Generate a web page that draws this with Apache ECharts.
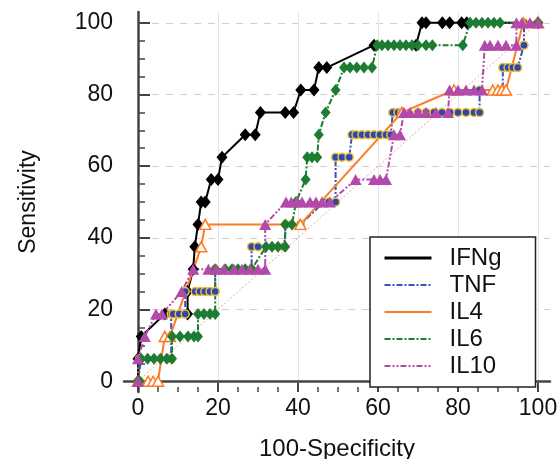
<!DOCTYPE html>
<html>
<head>
<meta charset="utf-8">
<script src="https://cdn.jsdelivr.net/npm/echarts@6/dist/echarts.min.js"></script>
<style>
html, body { margin: 0; padding: 0; background: #fff; }
#chartmain { width: 560px; height: 459px; }
</style>
</head>
<body>
<div id="chartmain"></div>
<script>
// tick labels of both axes
var ticks = [0, 20, 40, 60, 80, 100];

// ROC points [100-Specificity, Sensitivity]
var ifng = [[0,0],[0,6.25],[0.8,12.5],[6.7,18.75],[12.4,18.75],[12.4,25],[13.8,31.25],[14.2,37.5],[15,43.75],
    [15.8,50],[16.8,50],[18.3,56.25],[20,56.25],[21,62.5],[26.8,68.75],[29.3,68.75],[30.6,75],[36.8,75],[38.9,75],
    [40.7,81.25],[44,81.25],[45.2,87.5],[47.2,87.5],[59,93.75],[69.5,93.75],[71,100],[72,100],[76.1,100],[77.9,100],
    [80.9,100],[82.2,100],[100,100]];
var tnf = [[0,0],[0.4,0],[0.4,6.25],[8.3,6.25],[8.3,12.5],[8.3,18.75],[8.8,18.75],[10.3,18.75],[11.8,18.75],[11.8,25],
    [14.3,25],[15.5,25],[16.7,25],[18,25],[19.3,25],[19.3,31.25],[28.4,31.25],[28.4,37.5],[30,37.5],[36.5,37.5],[37,43.75],
    [40.6,43.75],[46.5,50],[47.7,50],[49.4,50],[49.4,62.5],[51,62.5],[52.8,62.5],[53.5,68.75],[54.5,68.75],[56,68.75],
    [57.5,68.75],[59,68.75],[60.5,68.75],[62,68.75],[63.2,68.75],[63.7,75],[65,75],[66,75],[70,75],[72,75],[74,75],
    [76,75],[78,75],[80,75],[82,75],[84,75],[85.4,75],[85.4,81.25],[91.2,81.25],[91.2,87.5],[92.5,87.5],[93.7,87.5],
    [94.9,87.5],[96.5,93.75],[96.5,100],[100,100]];
var il4 = [[0,0],[2.5,0],[3.8,0],[5,0],[6.7,12.5],[8,12.5],[15.8,37.5],[16.8,43.75],[40.6,43.75],[66,75],
    [79,81.25],[88.7,81.25],[90,81.25],[91,81.25],[92,81.25],[96.3,100],[100,100]];
var il6 = [[0,0],[0.4,0],[0.8,6.25],[2.4,6.25],[4,6.25],[5.6,6.25],[7.2,6.25],[8.5,6.25],[8.5,12.5],[10.5,12.5],
    [12.5,12.5],[14,12.5],[15,12.5],[15,18.75],[16.5,18.75],[18,18.75],[19.3,18.75],[19.3,31.25],[21.8,31.25],
    [23.5,31.25],[25,31.25],[26.8,31.25],[28.4,31.25],[32,37.5],[33.5,37.5],[35,37.5],[36.8,37.5],[36.8,43.75],
    [38.5,43.75],[39.5,50],[41.9,56.25],[42.3,62.5],[43.5,62.5],[44.8,62.5],[45.2,68.75],[46.9,75],[49.4,81.25],
    [51.5,87.5],[53,87.5],[54.7,87.5],[56.5,87.5],[58.5,87.5],[59.8,93.75],[61,93.75],[62.5,93.75],[64,93.75],
    [65.5,93.75],[67,93.75],[68.5,93.75],[70,93.75],[72,93.75],[73.6,93.75],[81.2,93.75],[83,100],[84.5,100],
    [86,100],[87.5,100],[89,100],[90.5,100],[100,100]];
var il10 = [[0,0],[0,6.25],[1.7,12.5],[4.5,18.75],[6,18.75],[10.9,25],[13.8,31.25],[17.6,31.25],[19.5,31.25],
    [21.5,31.25],[24,31.25],[26,31.25],[28,31.25],[30,31.25],[31.8,31.25],[31.8,43.75],[37,50],[38.3,50],[39.7,50],
    [41,50],[43,50],[44.5,50],[46,50],[48,50],[54.4,56.25],[59,56.25],[60.5,56.25],[62,56.25],[64,68.75],[65.5,68.75],
    [66.5,75],[68,75],[70,75],[72,75],[74.5,75],[77.5,75],[77.9,81.25],[80,81.25],[82,81.25],[84,81.25],[86,81.25],
    [86.7,93.75],[88,93.75],[90,93.75],[92,93.75],[94.6,93.75],[94.6,100],[96,100],[98,100],[100,100]];
var diag = [[0,0],[100,100]];

var names = ['IFNg', 'TNF', 'IL4', 'IL6', 'IL10'];

var font = 'Liberation Sans, Arial, sans-serif';
// plot frame in px and the value range it covers
var L = 124, R = 550, T = 12, B = 392;
var xMin = -3.5, xMax = 103, yMin = -3, yMax = 103;
var sx = (R - L) / (xMax - xMin), sy = (B - T) / (yMax - yMin);
var x0 = L + (ticks[0] - xMin) * sx, x100 = L + (ticks[5] - xMin) * sx;
var y100 = T + (yMax - ticks[5]) * sy, y0 = T + (yMax - ticks[0]) * sy;
var step = ticks[1] - ticks[0];

function line(name, data, color, type, width, symbol, size, itemStyle) {
    return {
        name: name, type: 'line', data: data, xAxisIndex: 0, yAxisIndex: 0,
        symbol: symbol, symbolSize: size,
        lineStyle: { color: color, width: width, type: type },
        itemStyle: itemStyle || { color: color },
        z: 3
    };
}

var option = {
    animation: false,
    grid: [
        { left: L, top: T, width: R - L, height: B - T, outerBoundsMode: 'none' },
        { left: x0, top: y100, width: R - x0, height: y0 - y100, outerBoundsMode: 'none' },
        { left: x0, top: T, width: x100 - x0, height: B - T, outerBoundsMode: 'none' }
    ],
    xAxis: [{
        gridIndex: 0, type: 'value', min: xMin, max: xMax,
        axisLine: { lineStyle: { color: '#444', width: 2.5 } },
        axisTick: { show: false }, axisLabel: { show: false }, splitLine: { show: false },
        name: '100-Specificity', nameLocation: 'middle', nameGap: 45,
        nameTextStyle: { fontSize: 24, color: '#111', fontFamily: font }
    }, {
        gridIndex: 1, type: 'value', min: 0, max: 1, show: false
    }, {
        gridIndex: 2, type: 'value', min: ticks[0], max: ticks[5], interval: step,
        axisLine: { show: false },
        axisTick: { inside: true, length: 9, lineStyle: { color: '#444', width: 2 } },
        minorTick: { show: true, splitNumber: 4, length: 5, lineStyle: { color: '#444', width: 1.5 } },
        axisLabel: { fontSize: 23, color: '#111', fontFamily: font, margin: 5 },
        splitLine: { show: true, lineStyle: { color: '#e4e4e4', width: 1 } }
    }],
    yAxis: [{
        gridIndex: 0, type: 'value', min: yMin, max: yMax,
        axisLine: { lineStyle: { color: '#444', width: 2.5 } },
        axisTick: { show: false }, axisLabel: { show: false }, splitLine: { show: false },
        name: 'Sensitivity', nameLocation: 'middle', nameGap: 84,
        nameTextStyle: { fontSize: 23, color: '#111', fontFamily: font }
    }, {
        gridIndex: 1, type: 'value', min: ticks[0], max: ticks[5], interval: step,
        offset: x0 - L,
        axisLine: { show: false },
        axisTick: { inside: true, length: 12, lineStyle: { color: '#444', width: 2 } },
        minorTick: { show: true, splitNumber: 4, length: 7, lineStyle: { color: '#444', width: 1.5 } },
        axisLabel: { fontSize: 23, color: '#111', fontFamily: font, margin: 11 },
        splitLine: { show: true, lineStyle: { color: '#cfcfcf', width: 1, type: [7, 7] } }
    }, {
        gridIndex: 2, type: 'value', min: 0, max: 1, show: false
    }],
    legend: {
        data: [
            { name: names[0], lineStyle: { width: 3 } },
            names[1], names[2], names[3], names[4]
        ],
        orient: 'vertical', left: 370, top: 237,
        padding: [9, 34, 9, 13],
        itemWidth: 47, itemHeight: 20, itemGap: 3,
        backgroundColor: '#fff', borderColor: '#222', borderWidth: 1.5,
        itemStyle: { opacity: 0 },
        selectedMode: false,
        textStyle: { fontSize: 24, color: '#111', fontFamily: font, lineHeight: 20, padding: [0, 0, 0, 13] }
    },
    series: [
        {
            type: 'line', data: diag, symbol: 'none', silent: true, z: 2,
            lineStyle: { color: '#e7a4a4', width: 1, type: [2, 2] }
        },
        line(names[0], ifng, '#000', 'solid', 2, 'diamond', [11, 13]),
        line(names[1], tnf, '#3b4fbf', [6, 2, 2, 2], 2, 'circle', 8,
            { color: '#2c47b0', borderColor: '#e9c239', borderWidth: 1.5 }),
        line(names[2], il4, '#ff7a22', 'solid', 2, 'triangle', [11, 10],
            { color: '#fff', borderColor: '#ff7a22', borderWidth: 1.5 }),
        line(names[3], il6, '#1e7c32', [6, 2, 2, 2], 2, 'diamond', [10, 12]),
        line(names[4], il10, '#b349aa', [6, 2, 2, 2, 2, 2], 2, 'triangle', [12, 11])
    ]
};

var myChart = echarts.init(document.getElementById('chartmain'));
myChart.setOption(option);
</script>
</body>
</html>
